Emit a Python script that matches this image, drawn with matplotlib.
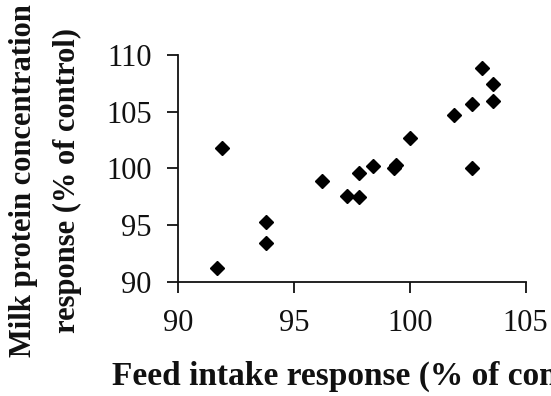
import matplotlib.pyplot as plt

# feed intake response (% of control) and milk protein concentration response
feed_intake = [91.7, 91.9, 93.8, 93.8, 96.2, 97.3, 97.8, 97.8, 98.4, 99.3,
               99.4, 100.0, 101.9, 102.7, 102.7, 103.1, 103.6, 103.6]
milk_protein = [91.3, 101.8, 95.3, 93.5, 98.9, 97.6, 97.5, 99.6, 100.2, 100.0,
                100.3, 102.7, 104.7, 105.7, 100.0, 108.8, 107.4, 105.9]

x_ticks = [90, 95, 100, 105]
y_ticks = [90, 95, 100, 105, 110]

plt.rcParams['font.family'] = ['Liberation Serif', 'DejaVu Serif']

fig = plt.figure(figsize=(5.51, 3.96), dpi=100)
ax = fig.add_axes([0.323, 0.287, 0.631, 0.575])

ax.plot(feed_intake, milk_protein, linestyle='none', marker='D',
        markersize=7.5, color='black')

ax.set_xlim(90, 105)
ax.set_ylim(90, 110)
ax.set_xticks(x_ticks)
ax.set_yticks(y_ticks)

for side in ['top', 'right']:
    ax.spines[side].set_visible(False)
for side in ['left', 'bottom']:
    ax.spines[side].set_linewidth(1.3)
    ax.spines[side].set_color('#111111')

ax.tick_params(direction='out', length=8, width=1.3, pad=11,
               labelsize=22, colors='#111111')

# the reference figure crops the end of the x label at the right edge
ax.set_xlabel('Feed intake response (% of control)', fontsize=24,
              fontweight='bold', color='#111111')
ax.set_ylabel('Milk protein concentration\nresponse (% of control)',
              fontsize=22, fontweight='bold', color='#111111',
              linespacing=1.7)
ax.yaxis.set_label_coords(-0.275, 0.448)
ax.xaxis.set_label_coords(0.54, -0.345)

fig.savefig('out.png', dpi=100)
